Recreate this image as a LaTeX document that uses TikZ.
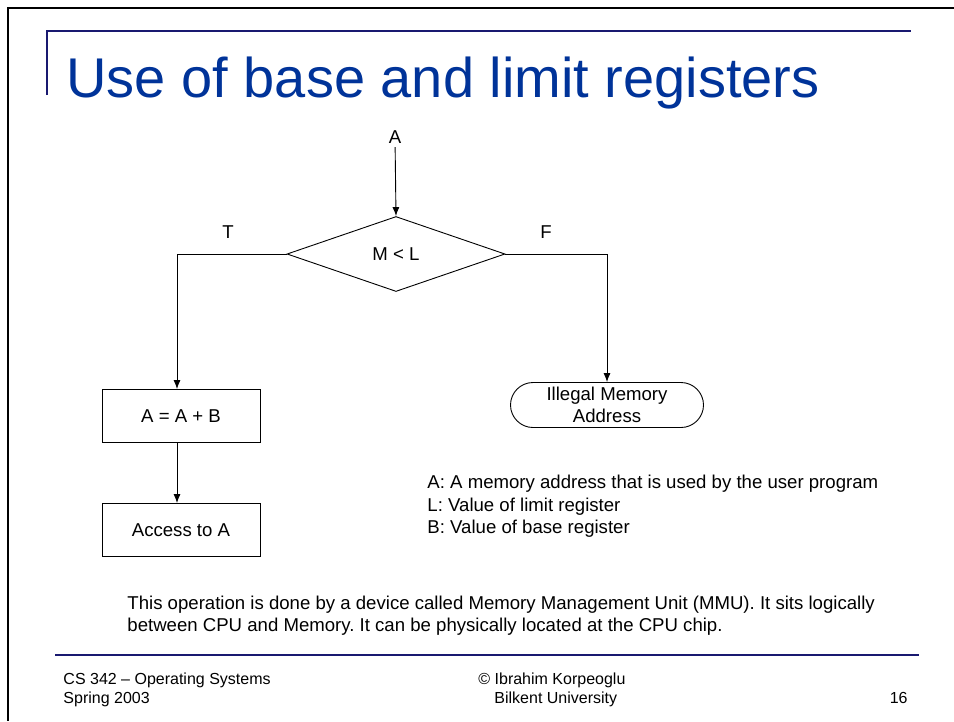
\documentclass[tikz,border=0pt]{standalone}
\usepackage{fontspec}
\setmainfont{Liberation Sans}
\usetikzlibrary{shapes.geometric,shapes.misc,arrows.meta}
\definecolor{titleblue}{RGB}{0,51,153}
\definecolor{rulenavy}{RGB}{25,25,112}
\frenchspacing
\tikzset{
  flowbox/.style={draw, rectangle, minimum width=158pt, minimum height=53pt},
  decision/.style={draw, diamond, inner sep=0pt, minimum width=218pt, minimum height=75pt},
  terminal/.style={draw, rounded rectangle, minimum width=197pt, minimum height=45pt, align=center, inner sep=2pt},
  plain/.style={inner sep=0pt, anchor=base west},
  footer/.style={plain, font=\fontsize{16}{19}\selectfont}
}
\begin{document}
\begin{tikzpicture}[x=1pt, y=-1pt, >={Latex[length=9pt,width=7pt]},
    line width=0.9pt, every node/.style={font=\fontsize{18.6}{22}\selectfont}]
  \useasboundingbox (0,0) rectangle (954,721);
  % frame and rules
  \draw[line width=2.5pt] (954,8) -- (8,8) -- (8,721);
  \draw[rulenavy, line width=1.6pt] (47,95) -- (47,31) -- (911,31);
  \draw[rulenavy, line width=2pt] (55,655) -- (919,655);
  % title
  \node[plain, titleblue, font=\fontsize{56}{60}\selectfont] (title) at (66,97) {Use of base and limit registers};
  % flowchart
  \node (src) at (395,137) {A};
  \node[decision] (cmp) at (396,254) {M < L};
  \node (tlab) at (228,232) {T};
  \node (flab) at (546,232) {F};
  \node[flowbox] (reloc) at (181,416) {A = A + B};
  \node[flowbox] (access) at (181,530) {Access to A};
  \node[terminal] (illegal) at (607,405) {Illegal Memory\\Address};
  \draw[->] (src) -- (cmp.north);
  \draw[->] (cmp.west) -| ([xshift=-4pt]reloc.north);
  \draw[->] (cmp.east) -| (illegal.north);
  \draw[->] ([xshift=-4pt]reloc.south) -- ([xshift=-4pt]access.north);
  % legend
  \node[plain] (legA) at (427,488.5) {A: A memory address that is used by the user program};
  \node[plain] (legL) at (427,511) {L: Value of limit register};
  \node[plain] (legB) at (427,533.5) {B: Value of base register};
  % note
  \node[plain] (noteA) at (127,609) {This operation is done by a device called Memory Management Unit (MMU). It sits logically};
  \node[plain] (noteB) at (127,631) {between CPU and Memory. It can be physically located at the CPU chip.};
  % footer
  \node[footer] (course) at (63,684) {CS 342 – Operating Systems};
  \node[footer] (term) at (63,703) {Spring 2003};
  \node[footer] (author) at (478,684) {© Ibrahim Korpeoglu};
  \node[footer] (school) at (494,703) {Bilkent University};
  \node[footer, anchor=base east] (page) at (908,703) {16};
\end{tikzpicture}
\end{document}
